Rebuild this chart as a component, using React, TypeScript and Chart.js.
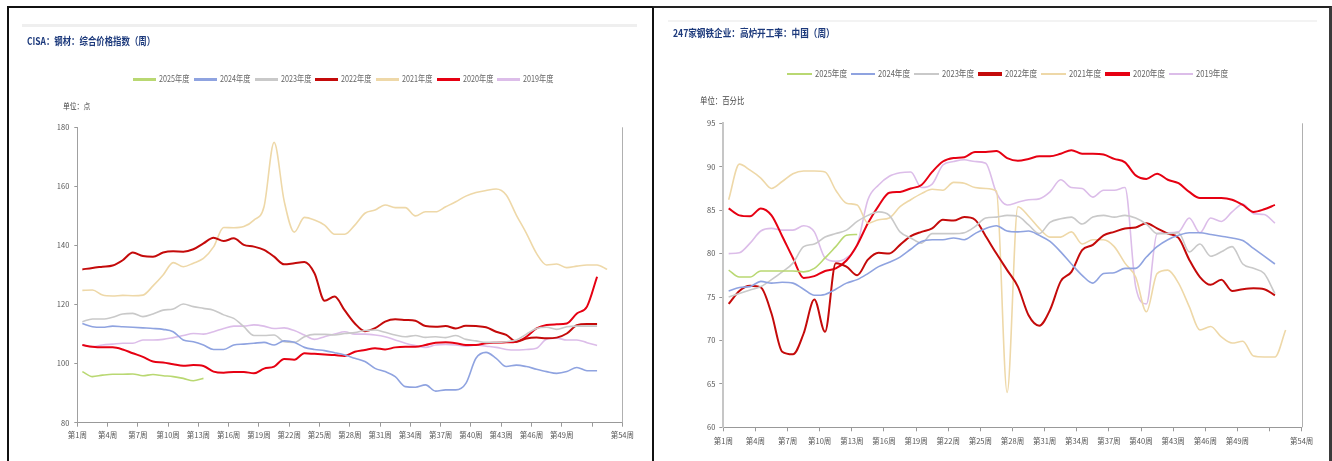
import React, { useEffect, useRef } from "react";
import { Chart, registerables } from "chart.js";

Chart.register(...registerables);

// ---------- data ----------
const SERIES_NAMES = ["2025年度", "2024年度", "2023年度", "2022年度", "2021年度", "2020年度", "2019年度"];
const SERIES_COLORS = ["#b9d872", "#8fa3e0", "#c9c9c9", "#c40a0a", "#eed8a8", "#e60012", "#dcbde9"];
const SERIES_WIDTHS = [1.6, 1.6, 1.6, 2, 1.6, 2, 1.6];
const LEGEND_WIDTHS = [2.5, 2.5, 2.5, 3.5, 2.5, 3.5, 2.5];

const X_TICK_LABELS = [
  "第1周", "第4周", "第7周", "第10周", "第13周", "第16周", "第19周", "第22周", "第25周",
  "第28周", "第31周", "第34周", "第37周", "第40周", "第43周", "第46周", "第49周", "", "第54周",
];

const LEFT_TITLE = "CISA：钢材：综合价格指数（周）";
const LEFT_UNIT = "单位：点";
const RIGHT_TITLE = "247家钢铁企业：高炉开工率：中国（周）";
const RIGHT_UNIT = "单位：百分比";

// CISA steel composite price index, weekly
const cisa2025 = [97.3, 95.6, 96.1, 96.4, 96.4, 96.5, 95.9, 96.3, 95.9, 95.6, 95.0, 94.2, 95.0];
const cisa2024 = [113.6, 112.5, 112.3, 112.7, 112.5, 112.3, 112.1, 111.9, 111.6, 110.8, 108.0, 107.4, 106.3, 104.8, 104.8, 106.3, 106.6, 106.9, 107.2, 106.3, 107.7, 107.2, 105.5, 104.8, 104.4, 103.7, 102.9, 101.8, 100.7, 98.4, 97.3, 95.6, 92.2, 92.0, 92.8, 90.7, 91.1, 91.1, 93.3, 101.8, 103.8, 101.8, 99.0, 99.5, 99.0, 98.1, 97.3, 96.7, 97.3, 98.7, 97.6, 97.6];
const cisa2023 = [114.2, 115.1, 115.1, 115.7, 116.8, 117.0, 115.9, 116.8, 118.1, 118.5, 120.2, 119.3, 118.7, 118.1, 116.5, 115.3, 112.5, 109.5, 109.5, 109.7, 107.4, 107.2, 109.1, 109.9, 109.9, 109.7, 110.2, 110.5, 111.2, 111.4, 110.6, 109.7, 109.1, 109.5, 108.9, 109.1, 108.8, 109.5, 108.2, 107.7, 107.2, 107.2, 107.4, 108.0, 110.0, 111.9, 112.3, 111.6, 112.5, 112.7, 112.7, 112.7];
const cisa2022 = [131.9, 132.4, 132.8, 133.2, 135.0, 137.6, 136.4, 136.2, 137.6, 138.0, 137.9, 138.7, 140.7, 142.6, 141.5, 142.4, 140.2, 139.6, 138.5, 136.2, 133.6, 134.0, 134.4, 130.6, 121.3, 122.7, 118.0, 113.6, 111.0, 112.0, 114.2, 115.0, 114.8, 114.5, 112.7, 112.5, 112.7, 111.9, 112.8, 112.7, 112.3, 110.8, 109.7, 107.4, 108.5, 108.8, 108.6, 108.8, 110.2, 113.0, 113.4, 113.4];
const cisa2021 = [124.8, 124.9, 123.2, 122.9, 123.1, 123.0, 123.2, 126.3, 130.0, 134.2, 132.8, 134.0, 135.6, 139.5, 146.1, 146.0, 146.4, 148.6, 153.1, 174.9, 155.0, 144.5, 149.5, 148.6, 146.9, 143.8, 143.8, 146.9, 150.9, 152.0, 153.7, 152.8, 152.8, 150.0, 151.4, 151.4, 153.1, 154.8, 156.7, 157.9, 158.6, 159.1, 157.1, 150.3, 144.1, 137.3, 133.4, 133.7, 132.5, 133.0, 133.4, 133.4, 131.9];
const cisa2020 = [106.3, 105.7, 105.5, 105.5, 104.8, 103.5, 102.3, 100.7, 100.4, 99.8, 99.3, 99.5, 99.2, 97.3, 96.9, 97.2, 97.2, 96.7, 98.3, 99.0, 101.6, 101.3, 103.5, 103.3, 103.1, 102.9, 102.6, 104.0, 104.6, 105.2, 104.8, 105.5, 105.7, 105.7, 106.3, 107.1, 107.2, 106.9, 106.3, 106.3, 106.9, 107.1, 107.2, 107.4, 109.1, 111.9, 113.1, 113.3, 113.6, 117.0, 119.3, 129.4];
const cisa2019 = [106.3, 105.7, 106.3, 106.6, 106.9, 106.9, 108.0, 108.0, 108.2, 108.8, 109.5, 110.2, 110.0, 110.8, 111.9, 112.7, 112.7, 113.1, 112.7, 111.9, 112.1, 111.2, 109.7, 108.2, 109.1, 110.0, 110.8, 110.0, 110.0, 109.7, 109.1, 108.0, 106.9, 106.1, 105.5, 106.3, 106.5, 106.3, 105.9, 106.3, 105.9, 105.5, 104.8, 104.6, 104.8, 105.2, 108.3, 108.6, 108.0, 108.0, 107.1, 106.1];

// 247 steel mills blast-furnace operating rate (%), weekly
const bf2025 = [78.1, 77.3, 77.3, 78.0, 78.0, 78.0, 78.0, 77.9, 78.3, 79.5, 80.8, 82.1, 82.2];
const bf2024 = [75.7, 76.1, 76.2, 76.8, 76.6, 76.7, 76.6, 75.9, 75.2, 75.3, 75.9, 76.6, 77.0, 77.7, 78.5, 79.0, 79.6, 80.5, 81.4, 81.6, 81.6, 81.8, 81.6, 82.3, 82.9, 83.2, 82.6, 82.5, 82.6, 82.1, 81.4, 80.2, 78.8, 77.5, 76.6, 77.7, 77.8, 78.3, 78.3, 79.6, 80.8, 81.6, 82.1, 82.4, 82.4, 82.2, 82.0, 81.8, 81.5, 80.6, 79.7, 78.8];
const bf2023 = [75.0, 75.4, 75.8, 76.2, 77.0, 77.9, 78.9, 80.8, 81.1, 81.9, 82.3, 82.7, 83.7, 84.4, 84.8, 84.4, 82.5, 81.8, 81.2, 82.3, 82.3, 82.3, 82.4, 83.1, 84.1, 84.2, 84.4, 84.3, 83.3, 82.3, 83.6, 84.0, 84.2, 83.4, 84.2, 84.4, 84.2, 84.4, 84.1, 83.4, 82.3, 82.3, 82.4, 80.2, 81.1, 79.7, 80.2, 80.8, 78.8, 78.3, 77.7, 75.4];
const bf2022 = [74.2, 75.7, 76.3, 76.1, 73.1, 68.7, 68.4, 70.8, 74.7, 71.0, 78.9, 78.5, 77.5, 79.3, 80.1, 80.0, 81.0, 82.0, 82.5, 82.9, 83.9, 83.8, 84.2, 83.9, 82.0, 80.0, 78.1, 76.2, 72.9, 71.7, 73.5, 76.8, 77.9, 80.4, 81.0, 82.1, 82.5, 82.9, 83.0, 83.5, 82.9, 82.3, 81.8, 79.3, 77.3, 76.4, 77.0, 75.7, 75.9, 76.0, 75.9, 75.2];
const bf2021 = [86.2, 90.3, 89.6, 88.7, 87.5, 88.3, 89.2, 89.5, 89.5, 89.4, 87.3, 85.8, 85.6, 83.5, 83.9, 84.1, 85.4, 86.2, 86.9, 87.4, 87.3, 88.2, 88.1, 87.6, 87.5, 87.2, 64.0, 85.4, 84.3, 82.9, 81.9, 81.9, 82.5, 81.1, 81.6, 81.6, 80.8, 78.9, 77.3, 73.3, 77.7, 78.1, 76.6, 73.9, 71.2, 71.6, 70.4, 69.7, 69.9, 68.2, 68.1, 68.1, 71.2];
const bf2020 = [85.2, 84.4, 84.3, 85.2, 84.4, 82.0, 79.5, 77.2, 77.4, 78.0, 78.3, 79.2, 81.0, 83.5, 85.5, 87.0, 87.1, 87.5, 87.9, 89.4, 90.6, 91.0, 91.1, 91.7, 91.7, 91.8, 91.0, 90.7, 90.9, 91.2, 91.2, 91.5, 91.9, 91.5, 91.5, 91.4, 90.9, 90.5, 89.0, 88.6, 89.2, 88.5, 88.1, 87.1, 86.4, 86.4, 86.4, 86.2, 85.6, 84.8, 85.1, 85.6];
const bf2019 = [80.0, 80.1, 81.2, 82.6, 82.9, 82.7, 82.7, 83.2, 82.5, 79.5, 79.1, 79.5, 81.0, 86.2, 87.9, 88.9, 89.3, 89.4, 87.6, 88.0, 90.2, 90.6, 90.8, 90.6, 90.4, 87.0, 85.6, 85.9, 86.2, 86.3, 87.1, 88.5, 87.6, 87.5, 86.5, 87.3, 87.3, 87.6, 76.2, 74.2, 82.3, 82.4, 82.5, 84.1, 82.4, 84.1, 83.7, 84.8, 85.7, 84.6, 84.5, 83.5];

const LEFT_SERIES = [cisa2025, cisa2024, cisa2023, cisa2022, cisa2021, cisa2020, cisa2019];
const RIGHT_SERIES = [bf2025, bf2024, bf2023, bf2022, bf2021, bf2020, bf2019];

// ---------- style ----------
const TICK_FONT = "'Liberation Sans Narrow', 'Noto Sans CJK SC', sans-serif";
const TEXT_FONT = "'Liberation Sans Narrow', 'Noto Sans CJK SC', sans-serif";
const TITLE_FONT = "'Noto Sans CJK SC', sans-serif";

type PanelCfg = {
  padding: { left: number; right: number; top: number; bottom: number };
  yAxisW: number;
  xAxisH: number;
  yMin: number;
  yMax: number;
  yStep: number;
  xTick: number;
  xPad: number;
  yTick: number;
  yPad: number;
  yBorderW: number;
  yBorderColor: string;
};

const LEFT_CFG: PanelCfg = {
  padding: { left: 57.3, right: 29.7, top: 127.3, bottom: 16.3 },
  yAxisW: 20, xAxisH: 22, yMin: 80, yMax: 180, yStep: 20,
  xTick: 4, xPad: 4, yTick: 3, yPad: 5, yBorderW: 1, yBorderColor: "#a0a0a0",
};
const RIGHT_CFG: PanelCfg = {
  padding: { left: 49.3, right: 30.3, top: 123.3, bottom: 11.7 },
  yAxisW: 20, xAxisH: 22, yMin: 60, yMax: 95, yStep: 5,
  xTick: 4, xPad: 5, yTick: 4, yPad: 4, yBorderW: 2, yBorderColor: "#c6c6c6",
};

const rightEdge = {
  id: "rightEdge",
  afterDraw(chart: any) {
    const { ctx, chartArea } = chart;
    ctx.save();
    ctx.strokeStyle = "#b0b0b0";
    ctx.lineWidth = 1;
    ctx.beginPath();
    const x = Math.round(chartArea.right) + 0.5;
    ctx.moveTo(x, chartArea.top);
    ctx.lineTo(x, chartArea.bottom);
    ctx.stroke();
    ctx.restore();
  },
};

function buildChart(canvas: HTMLCanvasElement, series: number[][], cfg: PanelCfg) {
  return new Chart(canvas, {
    type: "line",
    data: {
      datasets: series.map((vals, i) => ({
        label: SERIES_NAMES[i],
        data: vals.map((v, k) => ({ x: k + 0.5, y: v })),
        borderColor: SERIES_COLORS[i],
        backgroundColor: SERIES_COLORS[i],
        borderWidth: SERIES_WIDTHS[i],
        pointRadius: 0,
        pointHoverRadius: 0,
        cubicInterpolationMode: "monotone" as const,
        fill: false,
      })),
    },
    options: {
      animation: false,
      responsive: false,
      events: [],
      layout: { padding: cfg.padding },
      plugins: {
        legend: { display: false },
        title: { display: false },
        tooltip: { enabled: false },
      },
      scales: {
        x: {
          type: "linear",
          min: 0,
          max: 54,
          afterFit: (s: any) => { s.height = cfg.xAxisH; },
          grid: { display: true, drawOnChartArea: false, drawTicks: true, tickLength: cfg.xTick, color: "#999" },
          border: { display: true, color: "#999", width: 1 },
          ticks: {
            stepSize: 3,
            autoSkip: false,
            maxRotation: 0,
            minRotation: 0,
            padding: cfg.xPad,
            color: "#555",
            font: { size: 7.5, family: TICK_FONT },
            callback: (v: any) => X_TICK_LABELS[Math.round(Number(v) / 3)] ?? "",
          },
        },
        y: {
          type: "linear",
          min: cfg.yMin,
          max: cfg.yMax,
          afterFit: (s: any) => { s.width = cfg.yAxisW; },
          grid: { display: true, drawOnChartArea: false, drawTicks: true, tickLength: cfg.yTick, color: "#999" },
          border: { display: true, color: cfg.yBorderColor, width: cfg.yBorderW },
          ticks: {
            stepSize: cfg.yStep,
            padding: cfg.yPad,
            color: "#555",
            font: { size: 7.5, family: TICK_FONT },
          },
        },
      },
    },
    plugins: [rightEdge],
  } as any);
}

type LegendProps = { left: number; top: number; pitch: number; lineLen: number; textOffset: number; fontSize: number; scale: number };

function Legend({ left, top, pitch, lineLen, textOffset, fontSize, scale }: LegendProps) {
  return (
    <div style={{ position: "absolute", left, top, height: 0, width: 0 }}>
      {SERIES_NAMES.map((name, i) => (
        <div key={name} style={{ position: "absolute", left: i * pitch, top: 0 }}>
          <div
            style={{
              position: "absolute",
              left: 0,
              top: -LEGEND_WIDTHS[i] / 2,
              width: lineLen,
              height: LEGEND_WIDTHS[i],
              background: SERIES_COLORS[i],
            }}
          />
          <div
            style={{
              position: "absolute",
              left: textOffset,
              top: -fontSize * 0.6,
              fontSize,
              lineHeight: `${fontSize * 1.2}px`,
              fontFamily: TEXT_FONT,
              color: "#666",
              whiteSpace: "nowrap",
              transform: `scaleX(${scale})`,
              transformOrigin: "left center",
            }}
          >
            {name}
          </div>
        </div>
      ))}
    </div>
  );
}

function Label({ text, left, centerY, size, color, bold, scale, family }: any) {
  return (
    <div
      style={{
        position: "absolute",
        left,
        top: centerY - size * 0.6,
        fontSize: size,
        lineHeight: `${size * 1.2}px`,
        fontWeight: bold ? 700 : 400,
        fontFamily: family,
        color,
        whiteSpace: "nowrap",
        transform: `scaleX(${scale})`,
        transformOrigin: "left center",
      }}
    >
      {text}
    </div>
  );
}

export default function App() {
  const leftRef = useRef<HTMLCanvasElement | null>(null);
  const rightRef = useRef<HTMLCanvasElement | null>(null);

  useEffect(() => {
    const c1 = leftRef.current ? buildChart(leftRef.current, LEFT_SERIES, LEFT_CFG) : null;
    const c2 = rightRef.current ? buildChart(rightRef.current, RIGHT_SERIES, RIGHT_CFG) : null;
    return () => {
      c1 && c1.destroy();
      c2 && c2.destroy();
    };
  }, []);

  return (
    <div style={{ position: "fixed", left: 0, top: 0, width: 1332, height: 461, overflow: "hidden", background: "#fff" }}>
      <canvas ref={leftRef} width={652} height={461} style={{ position: "absolute", left: 0, top: 0, width: 652, height: 461 }} />
      <canvas ref={rightRef} width={678} height={461} style={{ position: "absolute", left: 654, top: 0, width: 678, height: 461 }} />

      {/* header separators */}
      <div style={{ position: "absolute", left: 22, top: 24, width: 615, height: 3, background: "#efefef" }} />
      <div style={{ position: "absolute", left: 668, top: 20, width: 649, height: 2, background: "#f3f3f3" }} />

      {/* titles and units */}
      <Label text={LEFT_TITLE} left={27} centerY={41} size={10.5} color="#1d3a7c" bold scale={0.8} family={TITLE_FONT} />
      <Label text={RIGHT_TITLE} left={673} centerY={33.5} size={10.5} color="#1d3a7c" bold scale={0.82} family={TITLE_FONT} />
      <Label text={LEFT_UNIT} left={63} centerY={105} size={8.5} color="#444" scale={0.8} family={TEXT_FONT} />
      <Label text={RIGHT_UNIT} left={700} centerY={101} size={9} color="#444" scale={0.82} family={TEXT_FONT} />

      {/* legends */}
      <Legend left={133.3} top={79.3} pitch={60.7} lineLen={23} textOffset={26} fontSize={9} scale={0.8} />
      <Legend left={787} top={74} pitch={63.6} lineLen={24.5} textOffset={27.5} fontSize={9.5} scale={0.8} />

      {/* panel borders */}
      <div style={{ position: "absolute", left: 7, top: 6, width: 647, height: 480, border: "2px solid #111", boxSizing: "border-box", pointerEvents: "none" }} />
      <div style={{ position: "absolute", left: 652, top: 6, width: 680, height: 480, borderTop: "2px solid #222", borderLeft: "2px solid #111", borderRight: "3px solid #3a3a3a", boxSizing: "border-box", pointerEvents: "none" }} />
    </div>
  );
}
